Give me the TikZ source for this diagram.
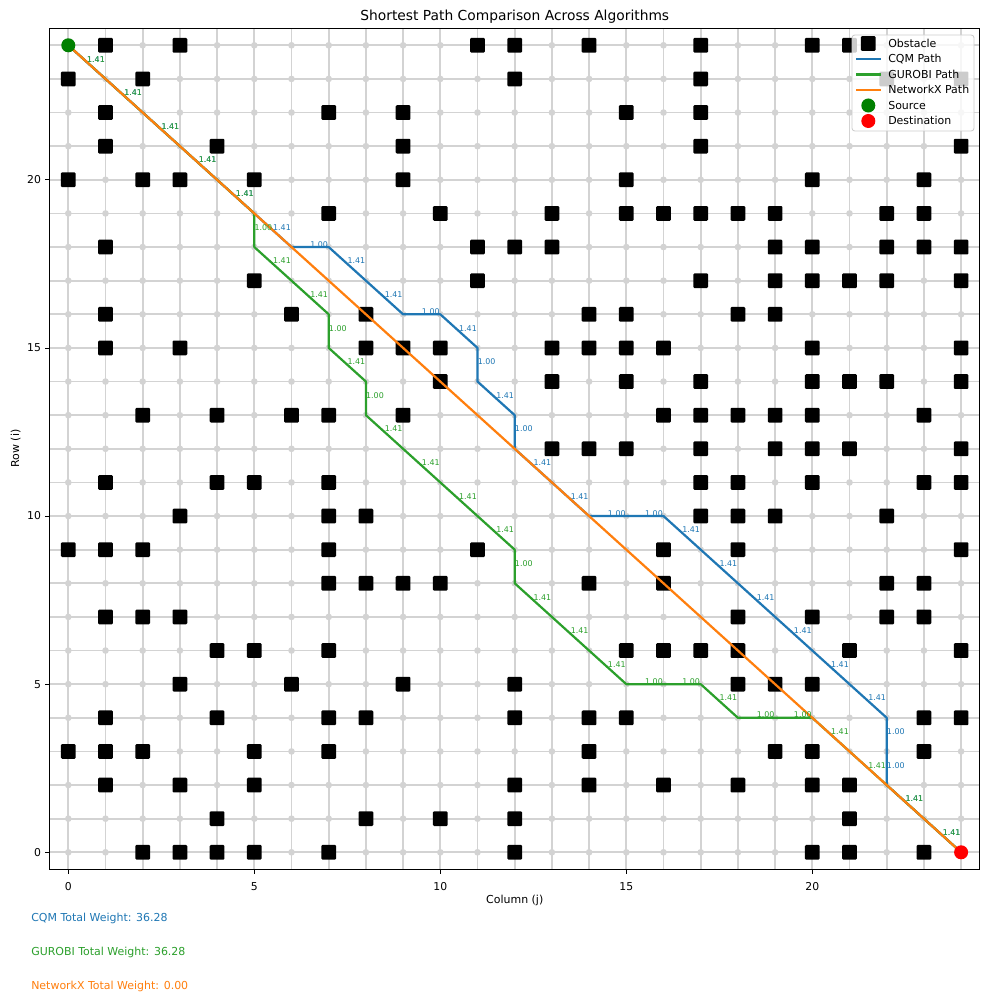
\documentclass[tikz,border=0pt]{standalone}
\usepackage{fontspec}
\setmainfont{DejaVu Sans}
\definecolor{cqmblue}{HTML}{1F77B4}
\definecolor{gurgreen}{HTML}{2CA02C}
\definecolor{nxorange}{HTML}{FF7F0E}
\definecolor{gridgray}{HTML}{D3D3D3}
\definecolor{srcgreen}{HTML}{008000}
\definecolor{legframe}{HTML}{CCCCCC}
\begin{document}
\begin{tikzpicture}[x=0.72pt,y=-0.72pt,
  gridline/.style={draw=gridgray, line width=1.2pt},
  obst/.style={fill=black, inner sep=0pt, minimum size=10.6pt, rounded corners=0.8pt},
  pathline/.style={line width=1.6pt, line join=round},
  elab/.style={anchor=base west, inner sep=0pt, font=\fontsize{5.7}{6}\selectfont},
  ticklab/.style={font=\fontsize{7.8}{9}\selectfont, inner sep=0pt},
  txt/.style={font=\fontsize{7.9}{9}\selectfont, inner sep=0pt},
  marker/.style={circle, inner sep=0pt, minimum size=10.1pt}]
\useasboundingbox (0,0) rectangle (989,999);
\fill[white] (0,0) rectangle (989,999);
\begin{scope}[shift={(68.3,852.3)}, x=26.784pt, y=24.21pt]
  % grid lines
  \foreach \i in {0,...,24} {
    \draw[gridline] (\i,-0.5) -- (\i,24.5);
    \draw[gridline] (-0.5,\i) -- (24.5,\i);
  }
  % grid nodes
  \foreach \i in {0,...,24} {
    \foreach \j in {0,...,24} {
      \fill[gridgray] (\i,\j) circle (2.4pt);
    }
  }
  % obstacles
  \foreach \r/\cols in {24/{1,3,11,12,14,17,20,21},
      23/{0,2,12,17,22,24},
      22/{1,7,9,15,17},
      21/{1,4,9,17,24},
      20/{0,2,3,5,9,15,20,23},
      19/{7,10,13,15,16,17,18,19,22,23},
      18/{1,11,12,13,19,20,22,23,24},
      17/{5,11,17,19,20,21,22,24},
      16/{1,6,8,14,15,18,19},
      15/{1,3,8,9,10,13,14,15,16,20,24},
      14/{10,13,15,17,20,21,22,24},
      13/{2,4,6,7,9,16,17,18,19,20,23},
      12/{13,14,15,17,19,20,21,24},
      11/{1,4,5,7,17,18,20,23,24},
      10/{3,7,8,17,18,19,22},
      9/{0,1,2,7,11,16,18,24},
      8/{7,8,9,10,14,16,22,23},
      7/{1,2,3,18,20,22,23},
      6/{4,5,7,15,16,17,18,21,24},
      5/{3,6,9,12,18,19,20},
      4/{1,4,7,8,12,14,15,23,24},
      3/{0,1,2,5,7,14,19,20,23},
      2/{1,3,5,12,14,16,18,20,21},
      1/{4,8,10,12,21},
      0/{2,3,4,5,7,12,20,21,23}} {
    \foreach \c in \cols {
      \node[obst] (ob-\c-\r) at (\c,\r) {};
    }
  }
  % CQM path
  \draw[pathline, cqmblue] (0,24) -- (1,23) -- (2,22) -- (3,21) -- (4,20) -- (5,19) -- (6,18) -- (7,18) -- (8,17) -- (9,16) -- (10,16) -- (11,15) -- (11,14) -- (12,13) -- (12,12) -- (13,11) -- (14,10) -- (15,10) -- (16,10) -- (17,9) -- (18,8) -- (19,7) -- (20,6) -- (21,5) -- (22,4) -- (22,3) -- (22,2) -- (23,1) -- (24,0);
  % GUROBI path
  \draw[pathline, gurgreen] (0,24) -- (1,23) -- (2,22) -- (3,21) -- (4,20) -- (5,19) -- (5,18) -- (6,17) -- (7,16) -- (7,15) -- (8,14) -- (8,13) -- (9,12) -- (10,11) -- (11,10) -- (12,9) -- (12,8) -- (13,7) -- (14,6) -- (15,5) -- (16,5) -- (17,5) -- (18,4) -- (19,4) -- (20,4) -- (21,3) -- (22,2) -- (23,1) -- (24,0);
  % NetworkX path
  \draw[pathline, nxorange] (0,24) -- (24,0);
  % source / destination
  \node[marker, fill=srcgreen] (src) at (0,24) {};
  \node[marker, fill=red] (dst) at (24,0) {};
  % CQM edge labels
  \foreach \x/\y [remember=\x as \px (initially 0), remember=\y as \py (initially 24)] in {1/23,2/22,3/21,4/20,5/19,6/18,7/18,8/17,9/16,10/16,11/15,11/14,12/13,12/12,13/11,14/10,15/10,16/10,17/9,18/8,19/7,20/6,21/5,22/4,22/3,22/2,23/1,24/0} {
    \pgfmathtruncatemacro{\dd}{abs(\x-\px)+abs(\y-\py)}
    \ifnum\dd>1 \def\wt{1.41}\else\def\wt{1.00}\fi
    \node[elab, text=cqmblue] (cq-\x-\y) at ({(\x+\px)/2},{(\y+\py)/2}) {\wt};
  }
  % GUROBI edge labels
  \foreach \x/\y [remember=\x as \px (initially 0), remember=\y as \py (initially 24)] in {1/23,2/22,3/21,4/20,5/19,5/18,6/17,7/16,7/15,8/14,8/13,9/12,10/11,11/10,12/9,12/8,13/7,14/6,15/5,16/5,17/5,18/4,19/4,20/4,21/3,22/2,23/1,24/0} {
    \pgfmathtruncatemacro{\dd}{abs(\x-\px)+abs(\y-\py)}
    \ifnum\dd>1 \def\wt{1.41}\else\def\wt{1.00}\fi
    \node[elab, text=gurgreen] (gu-\x-\y) at ({(\x+\px)/2},{(\y+\py)/2}) {\wt};
  }
  % axes frame
  \draw[line width=0.6pt] (-0.5,-0.5) rectangle (24.5,24.5);
  % ticks
  \foreach \t in {0,5,10,15,20} {
    \draw[line width=0.6pt] (\t,-0.5) -- ++(0pt,-3.6pt);
    \node[ticklab, anchor=north, yshift=-9.3pt] (xt\t) at (\t,-0.5) {\t};
    \draw[line width=0.6pt] (-0.5,\t) -- ++(-3.6pt,0pt);
    \node[ticklab, anchor=east, xshift=-6.1pt] (yt\t) at (-0.5,\t) {\t};
  }
\end{scope}
% titles and axis labels
\node[anchor=base, inner sep=0pt, font=\fontsize{9.95}{12}\selectfont] (title) at (514.75,21) {Shortest Path Comparison Across Algorithms};
\node[txt, anchor=base] (xlab) at (514.75,903) {Column (j)};
\node[txt, anchor=base, rotate=90] (ylab) at (19,448.5) {Row (i)};
% legend
\draw[legframe, fill=white, fill opacity=0.8, rounded corners=2pt, line width=0.6pt] (852,35) rectangle (974,131);
\node[obst] (lg-ob) at (868.3,43.5) {};
\draw[pathline, cqmblue] (856,59) -- (881,59);
\draw[pathline, gurgreen] (856,74.5) -- (881,74.5);
\draw[pathline, nxorange] (856,90) -- (881,90);
\node[marker, fill=srcgreen] (lg-src) at (868.3,105.5) {};
\node[marker, fill=red] (lg-dst) at (868.3,121) {};
\node[txt, anchor=base west] (lt1) at (888,47.4) {Obstacle};
\node[txt, anchor=base west] (lt2) at (888,62.9) {CQM Path};
\node[txt, anchor=base west] (lt3) at (888,78.4) {GUROBI Path};
\node[txt, anchor=base west] (lt4) at (888,93.9) {NetworkX Path};
\node[txt, anchor=base west] (lt5) at (888,109.4) {Source};
\node[txt, anchor=base west] (lt6) at (888,124.9) {Destination};
% totals
\node[txt, anchor=base west, text=cqmblue] (tw1) at (31,921) {CQM Total Weight: 36.28};
\node[txt, anchor=base west, text=gurgreen] (tw2) at (31,955) {GUROBI Total Weight: 36.28};
\node[txt, anchor=base west, text=nxorange] (tw3) at (31,989) {NetworkX Total Weight: 0.00};
\end{tikzpicture}
\end{document}
